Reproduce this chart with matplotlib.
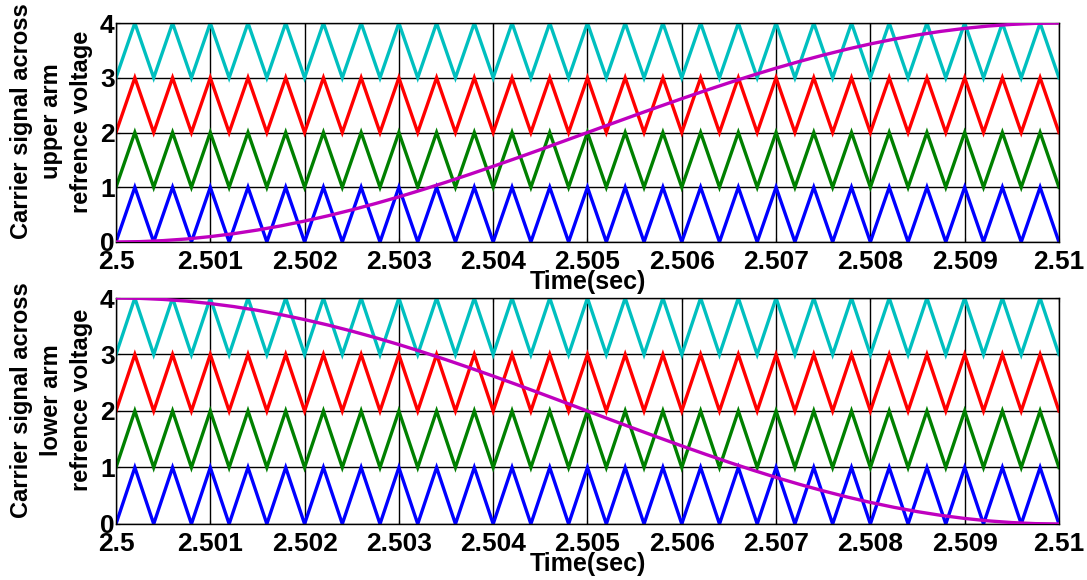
import matplotlib
matplotlib.use("Agg")
import matplotlib.pyplot as plt

# ── data ─────────────────────────────────────────────────────────────────────
T0 = 2.5

# triangle carrier corners (ms after 2.5 s) and their unit level
carrier_ms = [0.0, 0.2, 0.4, 0.6, 0.8, 1.0, 1.2, 1.4, 1.6, 1.8,
              2.0, 2.2, 2.4, 2.6, 2.8, 3.0, 3.2, 3.4, 3.6, 3.8,
              4.0, 4.2, 4.4, 4.6, 4.8, 5.0, 5.2, 5.4, 5.6, 5.8,
              6.0, 6.2, 6.4, 6.6, 6.8, 7.0, 7.2, 7.4, 7.6, 7.8,
              8.0, 8.2, 8.4, 8.6, 8.8, 9.0, 9.2, 9.4, 9.6, 9.8, 10.0]
carrier_unit = [0, 1, 0, 1, 0, 1, 0, 1, 0, 1,
                0, 1, 0, 1, 0, 1, 0, 1, 0, 1,
                0, 1, 0, 1, 0, 1, 0, 1, 0, 1,
                0, 1, 0, 1, 0, 1, 0, 1, 0, 1,
                0, 1, 0, 1, 0, 1, 0, 1, 0, 1, 0]
carrier_base   = [0, 1, 2, 3]
carrier_colors = ["#0000ff", "#008000", "#ff0000", "#00bfbf"]

# reference voltage samples (ms after 2.5 s)
ref_ms = [0.0, 0.25, 0.5, 0.75, 1.0, 1.25, 1.5, 1.75, 2.0, 2.25,
          2.5, 2.75, 3.0, 3.25, 3.5, 3.75, 4.0, 4.25, 4.5, 4.75,
          5.0, 5.25, 5.5, 5.75, 6.0, 6.25, 6.5, 6.75, 7.0, 7.25,
          7.5, 7.75, 8.0, 8.25, 8.5, 8.75, 9.0, 9.25, 9.5, 9.75, 10.0]
ref_upper = [0.00, 0.006, 0.025, 0.055, 0.098, 0.152, 0.218, 0.295, 0.382, 0.479,
             0.586, 0.701, 0.824, 0.955, 1.092, 1.235, 1.382, 1.533, 1.687, 1.843,
             2.000, 2.157, 2.313, 2.467, 2.618, 2.765, 2.908, 3.045, 3.176, 3.299,
             3.414, 3.521, 3.618, 3.705, 3.782, 3.848, 3.902, 3.945, 3.975, 3.994, 4.00]
ref_lower = ref_upper[::-1]

xticks = [2.5, 2.501, 2.502, 2.503, 2.504, 2.505, 2.506, 2.507, 2.508, 2.509, 2.51]
xtick_labels = ["2.5", "2.501", "2.502", "2.503", "2.504", "2.505",
                "2.506", "2.507", "2.508", "2.509", "2.51"]
yticks = [0, 1, 2, 3, 4]
ylabels = ["Carrier signal across\nupper arm\nrefrence voltage",
           "Carrier signal across\nlower arm\nrefrence voltage"]

# ── look & feel ──────────────────────────────────────────────────────────────
plt.rcParams.update({
    "font.family": ["Liberation Sans", "DejaVu Sans"],
    "font.weight": "bold",
    "font.size": 19,
    "xtick.direction": "in",
    "ytick.direction": "in",
})

fig = plt.figure(figsize=(10.87, 5.8), dpi=100)
ax_up = fig.add_axes([0.1067, 0.5828, 0.8675, 0.3775])
ax_lo = fig.add_axes([0.1067, 0.0966, 0.8675, 0.3896])

t_car = [T0 + m / 1000 for m in carrier_ms]
t_ref = [T0 + m / 1000 for m in ref_ms]

for ax, ref, lab in [(ax_up, ref_upper, ylabels[0]), (ax_lo, ref_lower, ylabels[1])]:
    for base, col in zip(carrier_base, carrier_colors):
        ax.plot(t_car, [base + u for u in carrier_unit], color=col, lw=2.4,
                solid_joinstyle="miter")
    ax.plot(t_ref, ref, color="#bf00bf", lw=2.4, zorder=5)

    ax.set_xlim(2.5, 2.51)
    ax.set_ylim(0, 4)
    ax.set_xticks(xticks)
    ax.set_xticklabels(xtick_labels, fontweight="bold")
    ax.set_yticks(yticks)
    ax.set_yticklabels([str(v) for v in yticks], fontweight="bold")
    ax.tick_params(axis="both", length=3, width=0.8, pad=1,
                   top=True, right=True, labelsize=19)
    ax.tick_params(axis="x", pad=6)
    ax.grid(True, color="black", lw=1.0, ls="-")
    ax.set_axisbelow(True)
    for sp in ax.spines.values():
        sp.set_linewidth(1.0)
    ax.set_xlabel("Time(sec)", fontweight="bold", fontsize=18, labelpad=-3)
    ax.set_ylabel(lab, fontweight="bold", fontsize=17, linespacing=1.4)
    ax.yaxis.set_label_coords(-0.024, 0.55)

fig.savefig("out.png", dpi=100)
